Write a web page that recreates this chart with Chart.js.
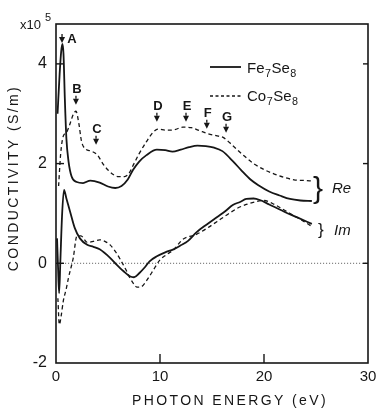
<!DOCTYPE html>
<html>
<head>
<meta charset="utf-8">
<script src="https://cdn.jsdelivr.net/npm/chart.js@4"></script>
<style>
  html, body { margin: 0; padding: 0; background: #fff; }
  canvas { display: block; }
</style>
</head>
<body>
<canvas id="grafico" width="380" height="410"></canvas>
<script>
// valores (unidades: eV y x10^5 S/m)
const feReX = [0.15, 0.35, 0.5, 0.62, 0.72, 0.85, 1.0, 1.2, 1.5, 2.0, 2.6, 3.3, 4.2, 5.0, 5.7, 6.3, 6.9, 7.4, 8.0, 8.7, 9.7, 10.5, 11.2, 12.0, 12.8, 13.6, 14.4, 15.2, 16.0, 17.0, 17.8, 18.7, 19.5, 20.5, 21.5, 22.5, 23.5, 24.6];
const feReY = [3.0, 3.8, 4.25, 4.4, 4.2, 3.3, 2.5, 2.05, 1.74, 1.63, 1.61, 1.66, 1.62, 1.54, 1.51, 1.55, 1.68, 1.87, 2.04, 2.17, 2.28, 2.27, 2.24, 2.28, 2.33, 2.36, 2.35, 2.32, 2.25, 2.05, 1.87, 1.68, 1.56, 1.44, 1.36, 1.29, 1.26, 1.25];

const coReX = [0.25, 0.45, 0.7, 1.0, 1.35, 1.65, 1.92, 2.2, 2.45, 2.8, 3.4, 4.0, 4.5, 5.0, 5.5, 6.0, 6.6, 7.0, 7.5, 8.0, 8.7, 9.3, 9.8, 10.6, 11.4, 12.2, 13.0, 13.8, 14.6, 15.4, 16.1, 17.0, 18.0, 19.0, 20.0, 21.0, 22.0, 23.0, 24.0, 24.6];
const coReY = [1.55, 2.2, 2.55, 2.62, 2.8, 2.98, 3.05, 2.8, 2.45, 2.3, 2.25, 2.17, 2.0, 1.87, 1.78, 1.74, 1.74, 1.8, 2.0, 2.2, 2.44, 2.62, 2.69, 2.67, 2.68, 2.73, 2.72, 2.66, 2.6, 2.56, 2.52, 2.36, 2.17, 2.0, 1.88, 1.79, 1.72, 1.67, 1.66, 1.65];

const feImX = [0.1, 0.2, 0.3, 0.42, 0.58, 0.77, 1.0, 1.35, 1.8, 2.3, 3.0, 3.6, 4.2, 5.2, 5.8, 6.5, 7.1, 7.5, 8.0, 8.5, 9.0, 9.7, 10.5, 11.3, 12.0, 12.7, 13.5, 14.5, 15.5, 16.3, 17.0, 17.7, 18.3, 19.0, 19.6, 20.5, 21.9, 23.2, 24.6];
const feImY = [0.5, -0.1, -0.6, 0.05, 0.95, 1.47, 1.3, 1.04, 0.71, 0.5, 0.37, 0.33, 0.28, 0.11, -0.02, -0.16, -0.26, -0.28, -0.2, -0.09, 0.04, 0.14, 0.22, 0.28, 0.36, 0.45, 0.62, 0.78, 0.93, 1.05, 1.17, 1.23, 1.29, 1.3, 1.27, 1.18, 1.04, 0.92, 0.79];

const coImX = [0.18, 0.32, 0.5, 0.7, 1.0, 1.2, 1.66, 2.0, 2.4, 3.0, 3.6, 4.2, 4.7, 5.2, 5.7, 6.2, 6.7, 7.1, 7.5, 7.8, 8.2, 8.6, 9.2, 10.0, 10.6, 11.3, 12.2, 13.5, 14.5, 15.5, 16.5, 17.4, 18.3, 19.3, 20.0, 21.0, 22.5, 23.6, 24.6];
const coImY = [-0.7, -1.23, -1.05, -0.76, -0.5, -0.29, 0.11, 0.54, 0.55, 0.42, 0.44, 0.47, 0.44, 0.37, 0.24, 0.07, -0.12, -0.29, -0.42, -0.48, -0.47, -0.38, -0.19, 0.07, 0.17, 0.27, 0.48, 0.58, 0.7, 0.84, 0.98, 1.1, 1.18, 1.24, 1.26, 1.18, 1.0, 0.87, 0.74];

const zeroX = [0.3, 30];
const zeroY = [0, 0];

const xTicks = [0, 10, 20, 30];
const yTicks = [-2, 0, 2, 4];

// picos marcados con flecha
const picoNombre = ["A", "B", "C", "D", "E", "F", "G"];
const picoX = [0.58, 1.92, 3.85, 9.7, 12.5, 14.5, 16.35];
const picoY = [4.42, 3.18, 2.38, 2.84, 2.84, 2.7, 2.62];

const unir = (xs, ys) => xs.map((x, i) => ({ x: x, y: ys[i] }));

const fuente = "'Liberation Sans', 'DejaVu Sans', Arial, sans-serif";
const negro = "#161616";

// texto con subindices tipo Fe7Se8
function textoQuimico(ctx, partes, x, y, size) {
  let cx = x;
  partes.forEach(p => {
    const sub = /^[0-9]+$/.test(p);
    ctx.font = (sub ? size * 0.72 : size) + "px " + fuente;
    ctx.fillText(p, cx, sub ? y + size * 0.28 : y);
    cx += ctx.measureText(p).width + 0.5;
  });
}

const extras = {
  id: "extras",
  afterDraw(chart) {
    const ctx = chart.ctx;
    const a = chart.chartArea;
    const sx = chart.scales.x;
    const sy = chart.scales.y;
    ctx.save();
    ctx.strokeStyle = negro;
    ctx.fillStyle = negro;

    // marco
    ctx.lineWidth = 1.6;
    ctx.strokeRect(a.left, a.top, a.right - a.left, a.bottom - a.top);

    // marcas interiores
    ctx.lineWidth = 1.4;
    xTicks.forEach(v => {
      const px = sx.getPixelForValue(v);
      if (v > 0 && v < 30) {
        ctx.beginPath();
        ctx.moveTo(px, a.bottom);
        ctx.lineTo(px, a.bottom - 9);
        ctx.stroke();
      }
    });
    yTicks.forEach(v => {
      const py = sy.getPixelForValue(v);
      if (v > -2) {
        ctx.beginPath();
        ctx.moveTo(a.left, py);
        ctx.lineTo(a.left + 8, py);
        ctx.stroke();
        ctx.beginPath();
        ctx.moveTo(a.right, py);
        ctx.lineTo(a.right - 5, py);
        ctx.stroke();
      }
    });

    // x10^5
    ctx.textBaseline = "alphabetic";
    ctx.textAlign = "left";
    ctx.font = "13px " + fuente;
    ctx.fillText("x10", 20, 29);
    ctx.font = "11px " + fuente;
    ctx.fillText("5", 45, 21);

    // titulos de ejes
    ctx.textAlign = "center";
    ctx.font = "14px " + fuente;
    ctx.letterSpacing = "2.4px";
    ctx.fillText("PHOTON ENERGY (eV)", 230, 405);
    ctx.save();
    ctx.translate(18, 178);
    ctx.rotate(-Math.PI / 2);
    ctx.fillText("CONDUCTIVITY (S/m)", 0, 0);
    ctx.restore();
    ctx.letterSpacing = "0px";

    // flechas de picos
    ctx.font = "bold 13px " + fuente;
    picoNombre.forEach((n, i) => {
      const px = sx.getPixelForValue(picoX[i]);
      const py = sy.getPixelForValue(picoY[i]);
      ctx.beginPath();
      ctx.moveTo(px - 3, py - 6);
      ctx.lineTo(px + 3, py - 6);
      ctx.lineTo(px, py);
      ctx.closePath();
      ctx.fill();
      ctx.lineWidth = 1.3;
      ctx.beginPath();
      ctx.moveTo(px, py - 6);
      ctx.lineTo(px, py - 9);
      ctx.stroke();
      ctx.textAlign = "center";
      if (i === 0) {
        ctx.fillText(n, px + 10, py);
      } else {
        ctx.fillText(n, px + 1, py - 12);
      }
    });

    // leyenda
    ctx.lineWidth = 1.8;
    ctx.setLineDash([]);
    ctx.beginPath();
    ctx.moveTo(210, 67);
    ctx.lineTo(241, 67);
    ctx.stroke();
    ctx.lineWidth = 1.3;
    ctx.setLineDash([3, 2.5]);
    ctx.beginPath();
    ctx.moveTo(210, 96);
    ctx.lineTo(241, 96);
    ctx.stroke();
    ctx.setLineDash([]);
    ctx.textAlign = "left";
    textoQuimico(ctx, ["Fe", "7", "Se", "8"], 247, 73, 15);
    textoQuimico(ctx, ["Co", "7", "Se", "8"], 247, 101, 15);

    // llaves Re / Im
    ctx.font = "30px " + fuente;
    ctx.fillText("}", 313, 198);
    ctx.font = "17px " + fuente;
    ctx.fillText("}", 318, 235);
    ctx.font = "italic 15px " + fuente;
    ctx.fillText("Re", 332, 193);
    ctx.fillText("Im", 334, 235);

    ctx.restore();
  }
};

const lineaBase = {
  fill: false,
  pointRadius: 0,
  borderColor: negro,
  tension: 0.35,
  cubicInterpolationMode: "monotone"
};

new Chart(document.getElementById("grafico"), {
  type: "line",
  data: {
    datasets: [
      Object.assign({}, lineaBase, { label: "Fe7Se8 Re", data: unir(feReX, feReY), borderWidth: 1.8 }),
      Object.assign({}, lineaBase, { label: "Co7Se8 Re", data: unir(coReX, coReY), borderWidth: 1.3, borderDash: [4, 3] }),
      Object.assign({}, lineaBase, { label: "Fe7Se8 Im", data: unir(feImX, feImY), borderWidth: 1.8 }),
      Object.assign({}, lineaBase, { label: "Co7Se8 Im", data: unir(coImX, coImY), borderWidth: 1.3, borderDash: [4, 3] }),
      { label: "cero", data: unir(zeroX, zeroY), borderColor: "#555", borderWidth: 1, borderDash: [1, 2], pointRadius: 0, fill: false }
    ]
  },
  options: {
    responsive: false,
    animation: false,
    layout: { padding: { top: 24, right: 12, left: 0, bottom: 0 } },
    plugins: { legend: { display: false }, tooltip: { enabled: false } },
    scales: {
      x: {
        type: "linear",
        min: 0,
        max: 30,
        afterBuildTicks: s => { s.ticks = xTicks.map(v => ({ value: v })); },
        afterFit: s => { s.height = 47; },
        grid: { display: false },
        border: { display: false },
        ticks: { color: negro, font: { size: 15, family: fuente }, padding: -3, maxRotation: 0 }
      },
      y: {
        type: "linear",
        min: -2,
        max: 4.8,
        afterBuildTicks: s => { s.ticks = yTicks.map(v => ({ value: v })); },
        afterFit: s => { s.width = 56; },
        grid: { display: false },
        border: { display: false },
        ticks: { color: negro, font: { size: 16, family: fuente }, padding: 1 }
      }
    }
  },
  plugins: [extras]
});
</script>
</body>
</html>
